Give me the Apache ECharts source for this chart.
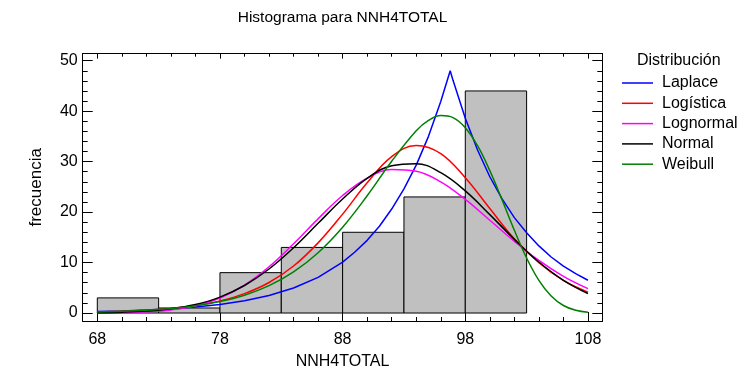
<!DOCTYPE html>
<html>
<head>
<meta charset="utf-8">
<script src="https://cdn.jsdelivr.net/npm/echarts@6/dist/echarts.min.js"></script>
<style>html,body{margin:0;padding:0;background:#fff;}#c{width:749px;height:375px;}</style>
</head>
<body>
<div id="c"></div>
<script>
// ---- data ----
const binStart = [68, 73, 78, 83, 88, 93, 98];
const binEnd   = [73, 78, 83, 88, 93, 98, 103];
const counts   = [3, 1, 8, 13, 16, 23, 44];

const smoothX = [68,70,72,74,76,78,80,82,84,86,88,90,92,94,96,98,100,102,104,106,108];
const logisticY  = [0.21,0.35,0.57,0.92,1.49,2.41,3.85,6.05,9.31,13.9,19.6,25.8,31.0,33.2,31.6,26.8,20.7,14.7,9.96,6.45,4.14];
const lognormalY = [0.02,0.07,0.23,0.61,1.44,2.99,5.53,9.16,13.71,18.66,23.28,26.73,28.42,28.10,25.98,22.51,18.39,14.21,10.41,7.27,4.84];
const normalY    = [0.07,0.17,0.39,0.84,1.69,3.16,5.45,8.72,12.93,17.77,22.6,26.7,29.2,29.6,27.8,24.2,19.5,14.6,10.1,6.48,3.86];

const laplaceX = [68,70,72,74,76,78,80,82,84,86,88,89,90,91,92,93,94,95,96,96.77,97,98,99,100,101,102,103,104,105,106,107,108];
const laplaceY = [0.29,0.41,0.59,0.84,1.20,1.71,2.43,3.47,4.96,7.07,10.1,12.1,14.4,17.2,20.6,24.6,29.3,35.0,41.9,48.0,46.1,38.6,32.3,27.0,22.6,18.9,15.9,13.3,11.1,9.3,7.8,6.5];

const weibullX = [68,70,72,74,76,78,80,82,84,86,88,90,92,94,95,96,97,98,99,100,101,102,103,104,105,106,107,108];
const weibullY = [0.195,0.328,0.544,0.888,1.43,2.27,3.53,5.42,8.15,11.95,17.0,23.23,30.07,36.11,38.16,39.13,38.72,36.73,33.15,28.21,22.42,16.40,10.90,6.47,3.37,1.49,0.55,0.165];

const xMajor = [68, 78, 88, 98, 108];
const xMinor = [70,72,74,76,80,82,84,86,90,92,94,96,100,102,104,106];
const yMajor = [0, 10, 20, 30, 40, 50];
const yMinor = [2,4,6,8,12,14,16,18,22,24,26,28,32,34,36,38,42,44,46,48];

const seriesNames = ['Laplace', 'Logística', 'Lognormal', 'Normal', 'Weibull'];
const seriesColors = ['#0000FF', '#FF0000', '#FF00FF', '#000000', '#008000'];

// ---- chart ----
const FONT = "'Liberation Sans', Arial, sans-serif";
const X_MIN = 66.81, X_MAX = 109.17, Y_MIN = -1.58, Y_MAX = 51.38;
const zip = (xs, ys) => xs.map((x, i) => [x, ys[i]]);
const lineCol = '#000';

function xAx(pos, values, len, labels, extra) {
  return Object.assign({
    type: 'value', position: pos, min: X_MIN, max: X_MAX, gridIndex: 0,
    axisLine: { show: true, onZero: false, lineStyle: { color: lineCol, width: 1 } },
    axisTick: { show: true, inside: true, length: len, customValues: values, lineStyle: { color: lineCol } },
    axisLabel: labels ? { show: true, customValues: values, color: '#000', fontSize: 16, fontFamily: FONT, margin: 11 } : { show: false },
    splitLine: { show: false }
  }, extra || {});
}
function yAx(pos, values, len, labels, extra) {
  return Object.assign({
    type: 'value', position: pos, min: Y_MIN, max: Y_MAX, gridIndex: 0,
    axisLine: { show: true, onZero: false, lineStyle: { color: lineCol, width: 1 } },
    axisTick: { show: true, inside: true, length: len, customValues: values, lineStyle: { color: lineCol } },
    axisLabel: labels ? { show: true, customValues: values, color: '#000', fontSize: 16, fontFamily: FONT, margin: 5 } : { show: false },
    splitLine: { show: false }
  }, extra || {});
}

const chart = echarts.init(document.getElementById('c'), null, { renderer: 'canvas' });

const lineSeries = [
  { name: seriesNames[0], data: zip(laplaceX, laplaceY), smooth: false },
  { name: seriesNames[1], data: zip(smoothX, logisticY), smooth: 0.4 },
  { name: seriesNames[2], data: zip(smoothX, lognormalY), smooth: 0.4 },
  { name: seriesNames[3], data: zip(smoothX, normalY), smooth: 0.4 },
  { name: seriesNames[4], data: zip(weibullX, weibullY), smooth: 0.4 }
].map((s, i) => Object.assign({
  type: 'line', xAxisIndex: 0, yAxisIndex: 0, symbol: 'none', showSymbol: false,
  color: seriesColors[i], lineStyle: { color: seriesColors[i], width: 1.5 }, z: 3 + i,
  animation: false
}, s));

chart.setOption({
  animation: false,
  backgroundColor: '#fff',
  grid: { left: 82.7, right: 146.7, top: 53.7, bottom: 53, containLabel: false },
  graphic: [
    { type: 'text', x: 342.5, y: 10, style: { text: 'Histograma para NNH4TOTAL', fontSize: 15.5, fontFamily: FONT, fill: '#000', align: 'center', verticalAlign: 'top' } },
    { type: 'text', x: 637, y: 53, style: { text: 'Distribución', fontSize: 16, fontFamily: FONT, fill: '#000', align: 'left', verticalAlign: 'top' } }
  ],
  legend: {
    orient: 'vertical', left: 622, top: 75, padding: 0,
    itemWidth: 31, itemHeight: 14, itemGap: 4.3,
    icon: 'path://M0 0 H62 V3 H0 Z',
    data: seriesNames,
    textStyle: { fontSize: 16, fontFamily: FONT, color: '#000', padding: [0, 0, 0, 4] },
    selectedMode: false
  },
  xAxis: [
    xAx('bottom', xMajor, 9, true, { name: 'NNH4TOTAL', nameLocation: 'middle', nameGap: 33, nameTextStyle: { fontSize: 16, fontFamily: FONT, color: '#000' } }),
    xAx('bottom', xMinor, 4, false),
    xAx('top', xMajor, 5, false),
    xAx('top', xMinor, 3, false)
  ],
  yAxis: [
    yAx('left', yMajor, 10, true, { name: 'frecuencia', nameLocation: 'middle', nameGap: 38, nameRotate: 90, nameTextStyle: { fontSize: 17, fontFamily: FONT, color: '#000' } }),
    yAx('left', yMinor, 5, false),
    yAx('right', yMajor, 10, false),
    yAx('right', yMinor, 5, false)
  ],
  series: [
    {
      type: 'custom', xAxisIndex: 0, yAxisIndex: 0, z: 2,
      data: binStart.map((s, i) => [s, binEnd[i], counts[i]]),
      encode: { x: [0, 1], y: 2 },
      renderItem: function (params, api) {
        const p0 = api.coord([api.value(0), api.value(2)]);
        const p1 = api.coord([api.value(1), 0]);
        return {
          type: 'rect',
          shape: { x: p0[0], y: p0[1], width: p1[0] - p0[0], height: p1[1] - p0[1] },
          style: { fill: '#C0C0C0', stroke: '#000', lineWidth: 1 }
        };
      }
    }
  ].concat(lineSeries)
});
</script>
</body>
</html>
